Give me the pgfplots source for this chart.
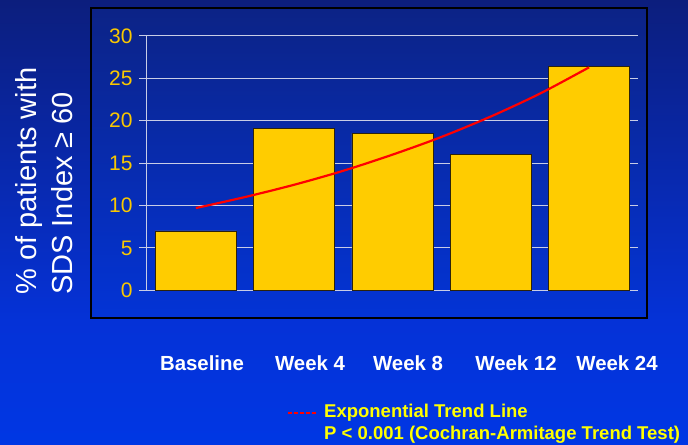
\documentclass[border=0pt]{standalone}
\usepackage{pgfplots}
\pgfplotsset{compat=1.18}
\usepackage{fontspec}
\setmainfont{Liberation Sans}

\definecolor{bgtop}{RGB}{12,30,125}
\definecolor{bgmid}{RGB}{5,50,215}
\definecolor{bgbot}{RGB}{0,55,228}
\definecolor{frtop}{RGB}{12,35,134}
\definecolor{frbot}{RGB}{3,52,214}
\definecolor{gridc}{RGB}{200,205,230}
\definecolor{tickc}{RGB}{250,200,0}
\definecolor{barc}{RGB}{255,204,0}
\definecolor{baredge}{RGB}{45,35,10}
\definecolor{legc}{RGB}{255,255,0}

% slide background and plot-frame gradients
\pgfdeclareverticalshading{slidebg}{100bp}{color(0bp)=(bgbot); color(25bp)=(bgbot); color(39bp)=(bgmid); color(75bp)=(bgtop); color(100bp)=(bgtop)}
\pgfdeclareverticalshading{framebg}{100bp}{color(0bp)=(frbot); color(25bp)=(frbot); color(75bp)=(frtop); color(100bp)=(frtop)}

\begin{document}
\begin{tikzpicture}[x=1bp,y=1bp]
\shade[shading=slidebg] (0,0) rectangle (688,445);
\shade[shading=framebg] (91,127) rectangle (647,437);
\draw[black, line width=2.5bp] (91,127) rectangle (647,437);

\begin{axis}[
  at={(146.7bp,154.7bp)}, anchor=south west,
  scale only axis, width=491.5bp, height=254.3bp,
  xmin=-0.5, xmax=4.5, ymin=0, ymax=30,
  axis x line=none, axis y line*=left,
  xtick=\empty,
  ytick={0,5,...,30},
  ymajorgrids,
  grid style={color=gridc, line width=1bp},
  tick align=outside, major tick length=7.7bp,
  ytick style={color=gridc, line width=1bp},
  y axis line style={color=gridc, line width=1bp},
  yticklabel style={font=\fontsize{21bp}{21bp}\selectfont, text=tickc, xshift=-3bp},
  /pgf/number format/assume math mode=true,
  clip=false,
]
% share of patients per visit
\addplot[ybar, bar width=81bp, bar shift=0pt, fill=barc, draw=baredge, line width=0.9bp]
  coordinates {(0,7.0) (1,19.1) (2,18.5) (3,16.0) (4,26.4)};
% exponential trend line
\addplot[red, line width=2.2bp, smooth, no markers]
  coordinates {(0,9.7) (0.5,11.0) (1,12.45) (1.5,14.1) (2,16.0) (2.5,18.1) (3,20.5) (3.5,23.2) (4,26.3)};
\end{axis}

% y-axis title
\node[rotate=90, anchor=north west, align=left, inner sep=0, text=white,
      font=\fontsize{29bp}{36bp}\selectfont] at (15,150)
  {\% of patients with\\SDS Index ≥ 60};

% visit labels
\begin{scope}[every node/.style={anchor=base, text=white, inner sep=0,
      font=\bfseries\fontsize{20.4bp}{24bp}\selectfont}]
\node at (202,74.5) {Baseline};
\node at (310,74.5) {Week 4};
\node at (408,74.5) {Week 8};
\node at (516,74.5) {Week 12};
\node at (617,74.5) {Week 24};
\end{scope}

% legend
\draw[red, line width=2.5bp, dash pattern=on 4bp off 2bp] (288,32) -- (318,32);
\begin{scope}[every node/.style={anchor=base west, text=legc, inner sep=0,
      font=\bfseries\fontsize{18.5bp}{22bp}\selectfont}]
\node at (324,27.5) {Exponential Trend Line};
\node at (324,5) {P < 0.001 (Cochran-Armitage Trend Test)};
\end{scope}

\pgfresetboundingbox
\useasboundingbox (0,0) rectangle (688,445);
\end{tikzpicture}
\end{document}
